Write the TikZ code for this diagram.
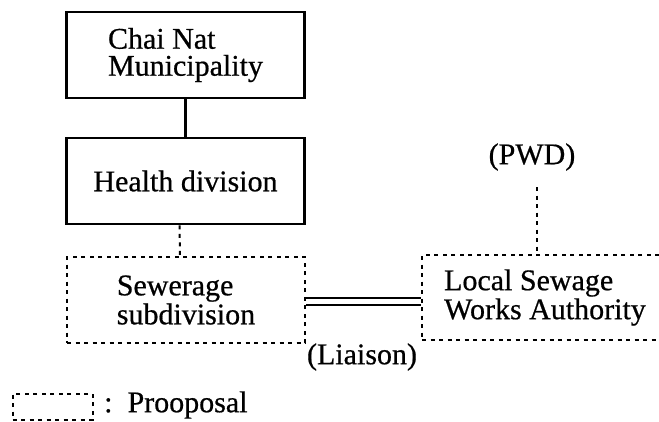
\documentclass[tikz,border=0pt]{standalone}
\usepackage{fontspec}
\setmainfont{Liberation Serif}[FakeBold=0.6]
\begin{document}
\begin{tikzpicture}[x=1pt,y=-1pt,
  solidbox/.style={draw, line width=2.6pt, minimum width=238pt, minimum height=86pt, align=left, inner sep=0pt},
  propbox/.style={draw, line width=2pt, dash pattern=on 4pt off 4.5pt, minimum height=86pt, align=left, inner sep=0pt},
  lbl/.style={inner sep=0pt, font=\fontsize{30}{28}\selectfont},
  solidline/.style={line width=2.4pt},
  propline/.style={line width=2pt, dash pattern=on 4pt off 4.5pt}]
\clip (0,0) rectangle (659,421);
\node[solidbox, font=\fontsize{30}{27}\selectfont] (chai) at (185.5,55) {Chai Nat\\Municipality};
\node[solidbox, font=\fontsize{30}{28}\selectfont] (health) at (185.5,181) {Health division};
\node[propbox, minimum width=238pt, font=\fontsize{30}{29}\selectfont] (sew) at (186,300) {Sewerage\\subdivision};
\node[propbox, minimum width=246pt, minimum height=85pt, font=\fontsize{30}{29}\selectfont] (local) at (545,297.5) {Local Sewage\\Works Authority};
\node[lbl] (pwd) at (532,157) {(PWD)};
\node[lbl] (liaison) at (362,357) {(Liaison)};
\coordinate (pwdend) at (537,187);
\draw[solidline] (chai.south) -- (health.north);
\draw[propline] ([xshift=-6pt]health.south) -- ([xshift=-6pt]sew.north);
\draw[propline] (pwdend) -- (pwdend |- local.north);
\draw[line width=2pt, double distance=5pt] (sew.east |- 0,301) -- (local.west |- 0,301);
\node[draw, line width=2pt, dash pattern=on 4pt off 4.5pt, minimum width=80pt, minimum height=26pt, inner sep=0pt] (legend) at (52.5,406.5) {};
\node[lbl, anchor=west] (legtext) at (104,405) {:\, Prooposal};
\end{tikzpicture}
\end{document}
